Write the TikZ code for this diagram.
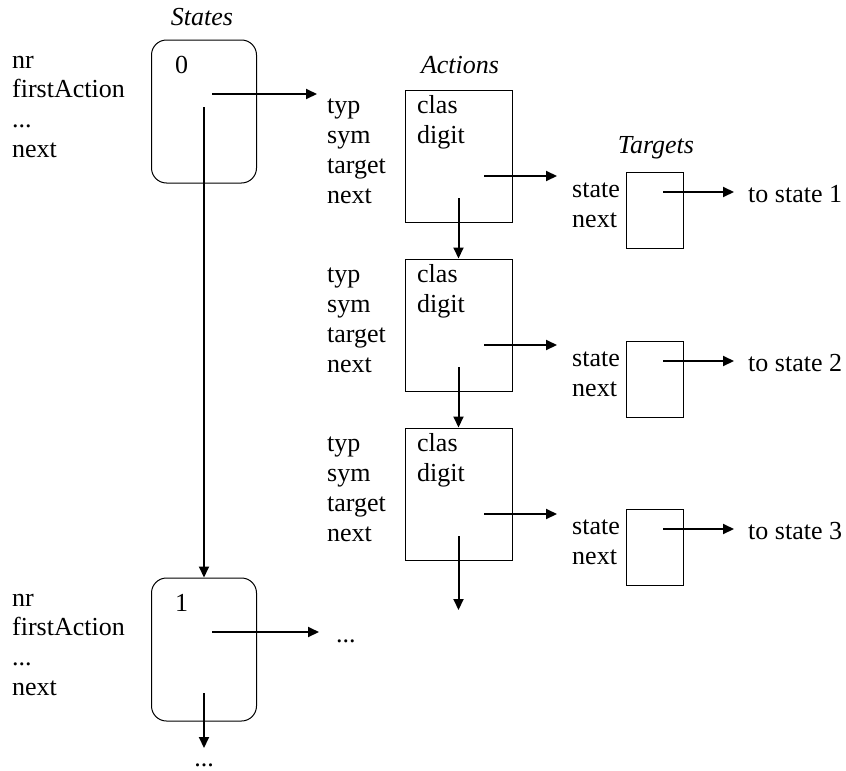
\documentclass[tikz,border=0pt]{standalone}
\usepackage{fontspec}
\setmainfont{Liberation Serif}
\usetikzlibrary{arrows.meta}
\begin{document}
\begin{tikzpicture}[x=1pt,y=-1pt,
  txt/.style={anchor=base west,inner sep=0pt,font=\fontsize{26}{30}\selectfont},
  ctxt/.style={anchor=base,inner sep=0pt,font=\fontsize{26}{30}\selectfont},
  ttl/.style={anchor=base,inner sep=0pt,font=\fontsize{26}{30}\selectfont\itshape},
  statebox/.style={draw,line width=1pt,rounded corners=15pt,minimum width=105pt,minimum height=143pt,inner sep=0pt},
  actbox/.style={draw,line width=1pt,minimum width=107pt,minimum height=132pt,inner sep=0pt},
  tgtbox/.style={draw,line width=1pt,minimum width=57pt,minimum height=76pt,inner sep=0pt},
  ptr/.style={line width=2pt,-{Triangle[length=11pt,width=10pt]}}]
\useasboundingbox (0,0) rectangle (846,771);

% titles
\node[ttl] (tStates) at (202,25) {States};
\node[ttl] (tActions) at (460,73) {Actions};
\node[ttl] (tTargets) at (656,153) {Targets};

% state boxes
\node[statebox] (s0) at (204,111.5) {};
\node[statebox] (s1) at (204,649.5) {};
\node[txt] (s0n) at (175,73) {0};
\node[txt] (s1n) at (175,611) {1};

% state field labels
\node[txt] (s0l1) at (12,68) {nr};
\node[txt] (s0l2) at (12,97) {firstAction};
\node[txt] (s0l3) at (12,127) {...};
\node[txt] (s0l4) at (12,157) {next};
\node[txt] (s1l1) at (12,606) {nr};
\node[txt] (s1l2) at (12,635) {firstAction};
\node[txt] (s1l3) at (12,665) {...};
\node[txt] (s1l4) at (12,695) {next};

% state connectors
\coordinate (s0r) at (212,94);
\coordinate (s0re) at (317,94);
\coordinate (s0d) at (204,107);
\draw[ptr] (s0r) -- (s0re);
\draw[ptr] (s0d) -- (s1.north);
\coordinate (s1r) at (212,632);
\coordinate (s1re) at (319,632);
\coordinate (s1d) at (204,693);
\coordinate (s1de) at (204,748);
\draw[ptr] (s1r) -- (s1re);
\draw[ptr] (s1d) -- (s1de);
\node[txt] (s1more) at (336,642) {...};
\node[ctxt] (s1next) at (204,766) {...};

% action boxes, labels and target boxes
\foreach \k/\t/\tt in {1/90/172, 2/259/341, 3/428/509}{
  \node[actbox] (a\k) at (458.5,\t+66) {};
  \node[txt] (a\k l1) at (327,\t+23) {typ};
  \node[txt] (a\k l2) at (327,\t+53) {sym};
  \node[txt] (a\k l3) at (327,\t+83) {target};
  \node[txt] (a\k l4) at (327,\t+113) {next};
  \node[txt] (a\k c) at (417,\t+23) {clas};
  \node[txt] (a\k d) at (417,\t+53) {digit};
  \coordinate (a\k r) at (484,\t+86);
  \coordinate (a\k re) at (557,\t+86);
  \draw[ptr] (a\k r) -- (a\k re);
  \coordinate (a\k d0) at (458.5,\t+108);
  \node[tgtbox] (g\k) at (654.5,\tt+38) {};
  \node[txt] (g\k l1) at (572,\tt+25) {state};
  \node[txt] (g\k l2) at (572,\tt+55) {next};
  \coordinate (g\k r) at (663,\tt+20);
  \coordinate (g\k re) at (734,\tt+20);
  \draw[ptr] (g\k r) -- (g\k re);
  \node[txt] (g\k to) at (748,\tt+30) {to state \k};
}
\draw[ptr] (a1d0) -- (a2.north);
\draw[ptr] (a2d0) -- (a3.north);
\coordinate (a3de) at (458.5,610);
\draw[ptr] (a3d0) -- (a3de);
\end{tikzpicture}
\end{document}
